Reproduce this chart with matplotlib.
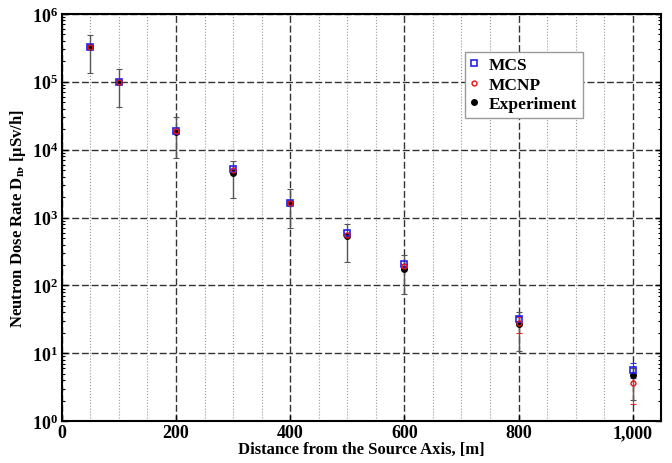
import numpy as np
import matplotlib
matplotlib.use('Agg')
import matplotlib.pyplot as plt
from matplotlib.ticker import FuncFormatter, MultipleLocator, LogLocator, NullFormatter

plt.rcParams['font.family'] = ['Liberation Serif', 'DejaVu Serif']
plt.rcParams['font.weight'] = 'bold'
plt.rcParams['mathtext.fontset'] = 'custom'
plt.rcParams['mathtext.rm'] = 'Liberation Serif:bold'
plt.rcParams['mathtext.bf'] = 'Liberation Serif:bold'
plt.rcParams['mathtext.it'] = 'Liberation Serif:bold'

# 数据
distance = [50, 100, 200, 300, 400, 500, 600, 800, 1000]
mcs = [3.3e5, 1.0e5, 1.9e4, 5.2e3, 1.65e3, 600, 210, 32, 5.6]
mcnp = [3.3e5, 1.0e5, 1.9e4, 5.0e3, 1.65e3, 560, 195, 28, 3.7]
experiment = [3.2e5, 9.8e4, 1.85e4, 4.5e3, 1.62e3, 530, 175, 27, 4.8]
exp_upper = [4.9e5, 1.56e5, 3.0e4, 6.9e3, 2.6e3, 810, 280, 41, 6.0]
exp_lower = [1.36e5, 4.2e4, 7.6e3, 1.95e3, 700, 225, 76, 11, 2.05]
# 仅在远处可见的计算误差
mcnp_upper = [3.3e5, 1.0e5, 1.9e4, 5.0e3, 1.65e3, 560, 195, 34, 4.6]
mcnp_lower = [3.3e5, 1.0e5, 1.9e4, 5.0e3, 1.65e3, 560, 195, 20, 1.78]
mcs_upper = [3.3e5, 1.0e5, 1.9e4, 5.2e3, 1.65e3, 600, 210, 36, 7.1]
mcs_lower = [3.3e5, 1.0e5, 1.9e4, 5.2e3, 1.65e3, 600, 210, 28, 4.4]
y_ticks = [1e0, 1e1, 1e2, 1e3, 1e4, 1e5, 1e6]

fig = plt.figure(figsize=(6.72, 4.64), dpi=100)
ax = fig.add_axes([0.092, 0.09, 0.892, 0.878])

exp_err = [np.array(experiment) - np.array(exp_lower), np.array(exp_upper) - np.array(experiment)]
mcnp_err = [np.array(mcnp) - np.array(mcnp_lower), np.array(mcnp_upper) - np.array(mcnp)]
mcs_err = [np.array(mcs) - np.array(mcs_lower), np.array(mcs_upper) - np.array(mcs)]

ax.errorbar(distance, experiment, yerr=exp_err, fmt='none', ecolor='#555555',
            elinewidth=1.0, capsize=2.5, capthick=0.8, zorder=3)
ax.errorbar(distance, mcs, yerr=mcs_err, fmt='none', ecolor='#3333dd',
            elinewidth=0.8, capsize=2, capthick=0.8, zorder=3)
ax.errorbar(distance, mcnp, yerr=mcnp_err, fmt='none', ecolor='#ee2222',
            elinewidth=0.8, capsize=2, capthick=0.8, zorder=3)

ax.plot(distance, experiment, 'o', color='black', markersize=4, zorder=4, label='Experiment')
ax.plot(distance, mcs, 's', mfc='none', mec='#2222ee', mew=1.2, markersize=5, zorder=5, label='MCS')
ax.plot(distance, mcnp, 'o', mfc='none', mec='#ee1111', mew=1.0, markersize=3.5, zorder=6, label='MCNP')

ax.set_yscale('log')
ax.set_xlim(0, 1050)
ax.set_ylim(1, 1e6)

ax.xaxis.set_major_locator(MultipleLocator(200))
ax.xaxis.set_minor_locator(MultipleLocator(50))
ax.xaxis.set_major_formatter(FuncFormatter(lambda v, p: '{:,.0f}'.format(v)))
ax.set_yticks(y_ticks)
ax.yaxis.set_minor_locator(LogLocator(base=10, subs=np.arange(2, 10), numticks=20))
ax.yaxis.set_minor_formatter(NullFormatter())
ax.yaxis.set_major_formatter(FuncFormatter(lambda v, p: r'$\mathbf{10^{%d}}$' % int(round(np.log10(v)))))
ax.set_ylim(1, 1e6)

ax.tick_params(axis='both', which='major', direction='in', length=4, width=1,
               labelsize=13, right=True, top=False, pad=2.5)
ax.tick_params(axis='x', which='major', pad=2)
ax.tick_params(axis='y', which='minor', direction='in', length=2.5, width=0.8, right=True)
ax.tick_params(axis='x', which='minor', length=0)

ax.grid(True, which='major', linestyle=(0, (5, 2)), color='#333333', linewidth=1.0)
ax.grid(True, which='minor', axis='x', linestyle=':', color='#999999', linewidth=0.8)

for s in ax.spines.values():
    s.set_linewidth(1.5)

ax.set_xlabel('Distance from the Source Axis, [m]', fontsize=12, fontweight='bold', labelpad=0)
ax.set_ylabel(r'Neutron Dose Rate D$_{\mathbf{n}}$, [μSv/h]', fontsize=12, fontweight='bold', labelpad=3)

handles, labels = ax.get_legend_handles_labels()
order = [1, 2, 0]
leg = ax.legend([handles[i] for i in order], [labels[i] for i in order],
                loc='upper left', bbox_to_anchor=(0.672, 0.907), fontsize=12,
                frameon=True, fancybox=False, edgecolor='#999999', framealpha=1,
                handlelength=0.5, handletextpad=0.6, borderpad=0.3, labelspacing=0.2,
                borderaxespad=0, prop={'weight': 'bold', 'size': 12.5})

fig.savefig('out.png', dpi=100)
